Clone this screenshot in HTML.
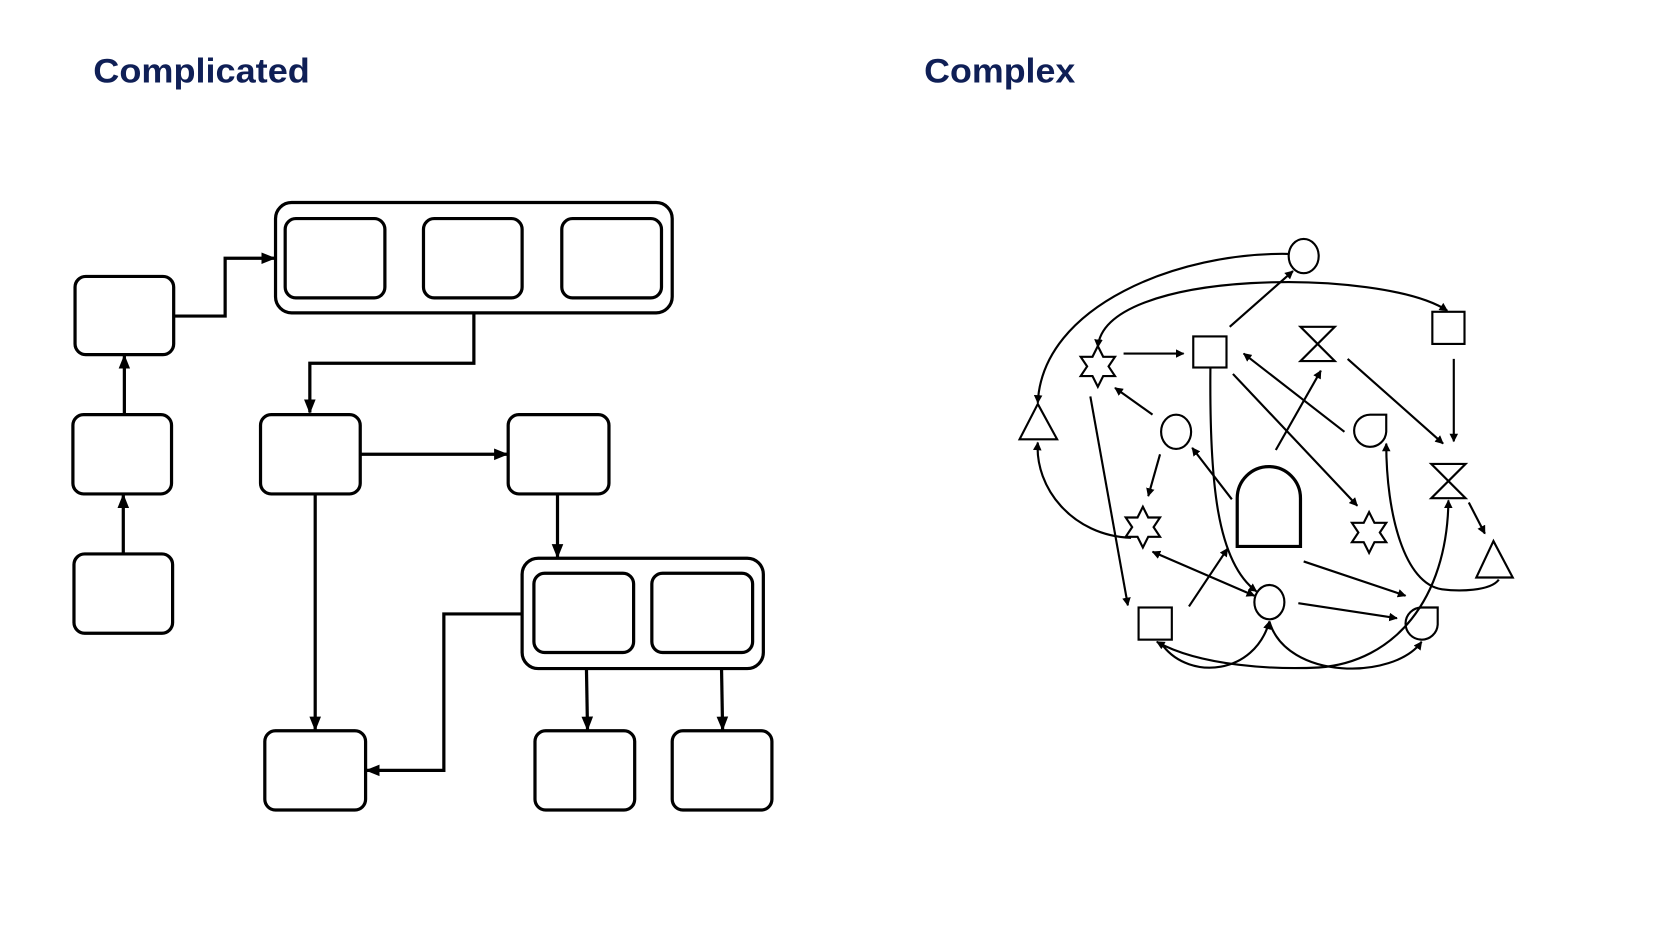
<!DOCTYPE html>
<html><head><meta charset="utf-8"><style>html,body{margin:0;padding:0;background:#fff}svg{display:block}</style></head>
<body>
<svg width="1680" height="945" viewBox="0 0 1567 882" xmlns="http://www.w3.org/2000/svg" preserveAspectRatio="none">
<defs>
<marker id="a" viewBox="0 0 10 10" refX="9" refY="5" markerWidth="4" markerHeight="4" orient="auto-start-reverse"><path d="M0,0L10,5L0,10z" fill="#000"/></marker>
<marker id="b" viewBox="0 0 10 10" refX="9" refY="5" markerWidth="4.5" markerHeight="4.5" orient="auto-start-reverse"><path d="M0,1L10,5L0,9z" fill="#000"/></marker>
</defs>
<text x="87" y="77" font-family="Liberation Sans, sans-serif" font-weight="bold" font-size="32" fill="#0f1f56" textLength="202" lengthAdjust="spacingAndGlyphs">Complicated</text>
<text x="862" y="77" font-family="Liberation Sans, sans-serif" font-weight="bold" font-size="32" fill="#0f1f56" textLength="141" lengthAdjust="spacingAndGlyphs">Complex</text>

<g fill="none" stroke="#000" stroke-width="3">
<rect x="70" y="258" width="92" height="73" rx="10"/>
<rect x="68" y="387" width="92" height="74" rx="10"/>
<rect x="69" y="517" width="92" height="74" rx="10"/>
<rect x="257" y="189" width="370" height="103" rx="15"/>
<rect x="266" y="204" width="93" height="74" rx="10"/>
<rect x="395" y="204" width="92" height="74" rx="10"/>
<rect x="524" y="204" width="93" height="74" rx="10"/>
<rect x="243" y="387" width="93" height="74" rx="10"/>
<rect x="474" y="387" width="94" height="74" rx="10"/>
<rect x="487" y="521" width="225" height="103" rx="15"/>
<rect x="498" y="535" width="93" height="74" rx="10"/>
<rect x="608" y="535" width="94" height="74" rx="10"/>
<rect x="247" y="682" width="94" height="74" rx="10"/>
<rect x="499" y="682" width="93" height="74" rx="10"/>
<rect x="627" y="682" width="93" height="74" rx="10"/>
<g marker-end="url(#b)">
<path d="M115,517V462"/>
<path d="M116,387V332"/>
<path d="M162,295H210V241H256"/>
<path d="M442,292V339H289V385"/>
<path d="M336,424H473"/>
<path d="M520,461V520"/>
<path d="M294,461V681"/>
<path d="M487,573H414V719H342"/>
<path d="M547,624L548,681"/>
<path d="M673,624L674,681"/>
</g>
</g>

<g fill="none" stroke="#000" stroke-width="2">
<ellipse cx="1216" cy="239" rx="14" ry="16"/>
<rect x="1336" y="291" width="30" height="30"/>
<rect x="1113" y="314" width="31" height="29"/>
<rect x="1062" y="567" width="31" height="30"/>
<ellipse cx="1097" cy="403" rx="14" ry="16"/>
<ellipse cx="1184" cy="562" rx="14" ry="16"/>
<path d="M1213,305H1245L1213,337H1245Z"/>
<path d="M1335,433H1367L1335,465H1367Z"/>
<path d="M968,377L951,410H986Z"/>
<path d="M1393,505L1377,539H1411Z"/>
<path d="M1278,387H1293V403A15,15 0 1 1 1278,387Z"/>
<path d="M1326,567H1341V583A15,15 0 1 1 1326,567Z"/>
<path d="M1154,510V465A29,29 0 0 1 1213,465V510Z" stroke-width="3"/>
<path d="M1024,323L1029,333H1040L1034,342L1040,351H1029L1024,361L1019,351H1008L1014,342L1008,333H1019Z"/>
<path d="M1066,473L1071,483H1082L1076,492L1082,501H1071L1066,511L1061,501H1050L1056,492L1050,483H1061Z"/>
<path d="M1277,478L1282,488H1293L1287,497L1293,506H1282L1277,516L1272,506H1261L1267,497L1261,488H1272Z"/>
<g marker-end="url(#a)">
<path d="M1202,237C1100,235 972,285 968,376"/>
<path d="M1024,324C1030,250 1290,250 1350,290" marker-start="url(#a)"/>
<path d="M1147,305L1206,253"/>
<path d="M1048,330H1104"/>
<path d="M1075,387L1040,362"/>
<path d="M1017,370L1052,565"/>
<path d="M1129,343C1128,450 1135,525 1172,552"/>
<path d="M1150,349L1266,472"/>
<path d="M1254,403L1160,330"/>
<path d="M1190,420L1232,346"/>
<path d="M1257,335L1346,414"/>
<path d="M1356,335V412"/>
<path d="M1149,466L1112,418"/>
<path d="M1082,424L1071,463"/>
<path d="M1055,502C1000,500 965,455 968,413"/>
<path d="M1075,515L1170,556" marker-start="url(#a)"/>
<path d="M1109,566L1145,512"/>
<path d="M1216,524L1311,556"/>
<path d="M1211,563L1303,577"/>
<path d="M1370,469L1385,498"/>
<path d="M1398,541C1390,552 1360,552 1345,550C1310,545 1293,480 1293,414"/>
<path d="M1085,603C1110,635 1170,630 1184,580"/>
<path d="M1184,580C1200,635 1300,635 1326,599"/>
<path d="M1079,599C1120,622 1190,625 1230,623C1300,618 1350,560 1351,467" marker-start="url(#a)"/>
</g>
</g>
</svg>
</body></html>
